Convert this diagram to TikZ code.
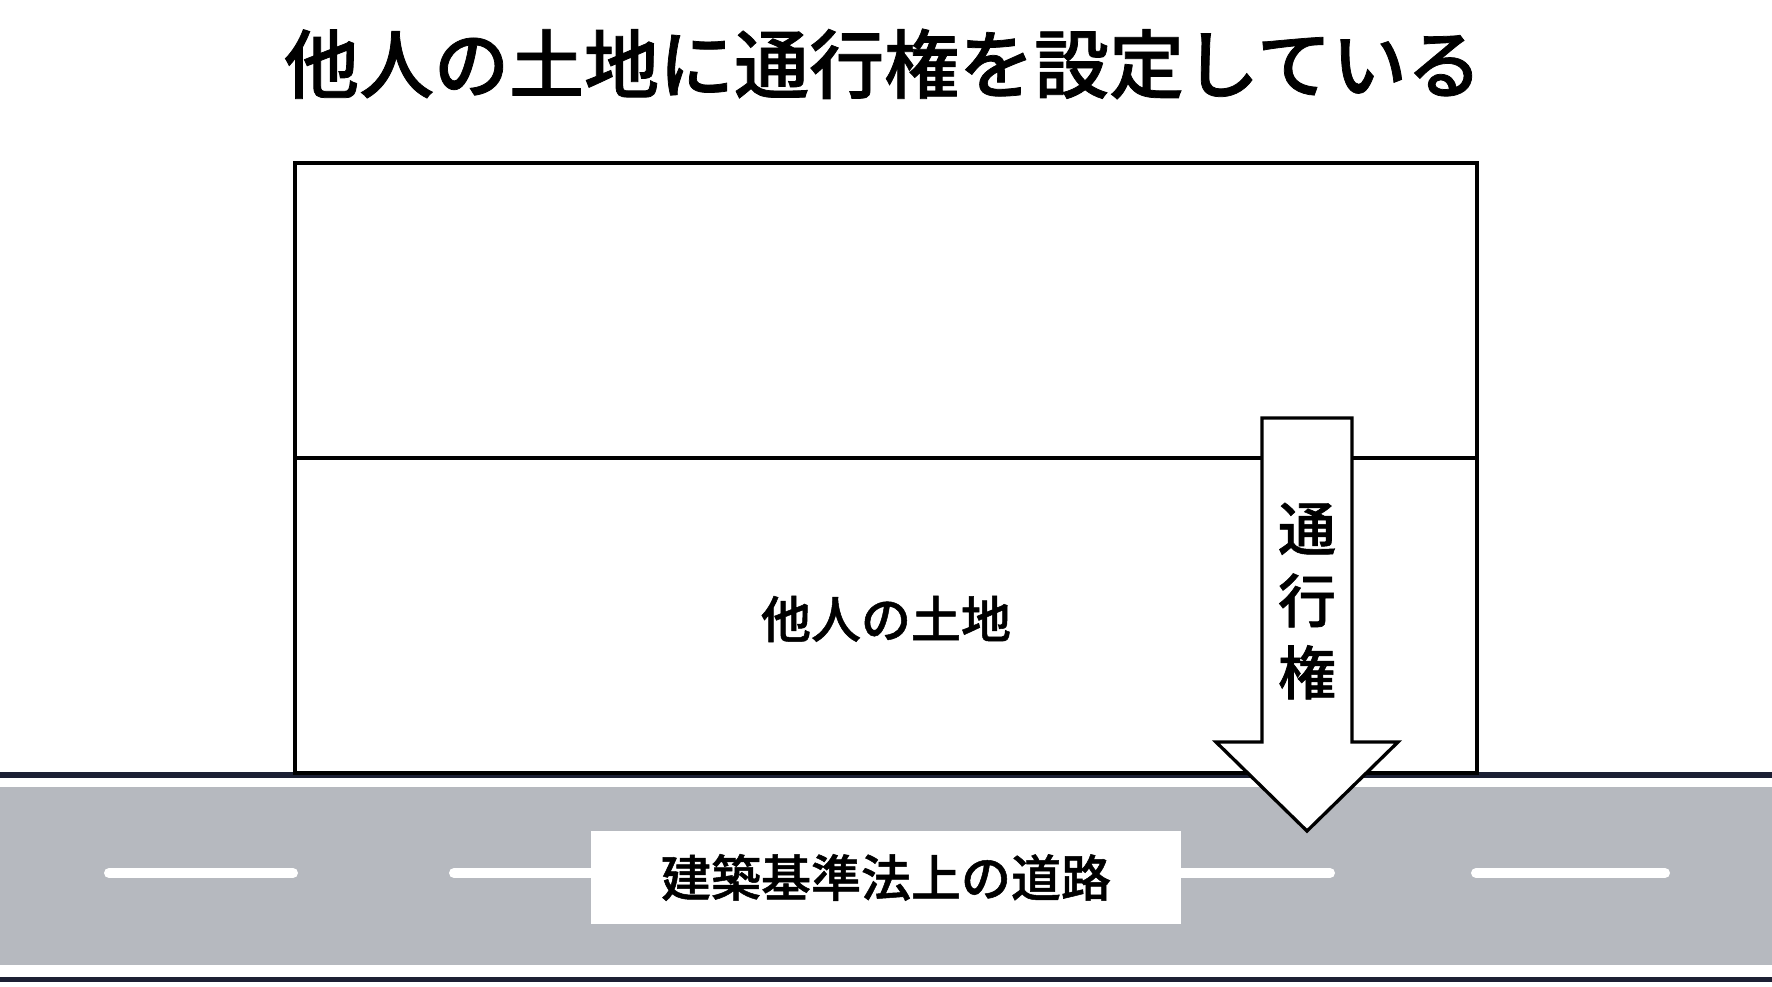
\documentclass[tikz,border=0pt]{standalone}
\usepackage{fontspec}
\newfontfamily\jp{Noto Sans CJK JP Medium}[FakeBold=1]
\definecolor{roadgray}{RGB}{182,185,191}
\definecolor{roaddark}{RGB}{28,32,52}
\tikzset{
  roaddash/.style={white,line width=10pt,line cap=round},
  landline/.style={black,line width=3.3pt},
  txt/.style={inner sep=0pt,text=black},
}
\begin{document}
\begin{tikzpicture}[x=1pt,y=-1pt,line join=miter]
\useasboundingbox (0,0) rectangle (1772,986);
\fill[white] (0,0) rectangle (1772,986);
% road
\fill[roaddark] (0,772) rectangle (1772,778);
\fill[roadgray] (0,787) rectangle (1772,965);
\fill[roaddark] (0,977) rectangle (1772,982);
\draw[roaddash] (109,873) -- (293,873);
\draw[roaddash] (454,873) -- (639,873);
\draw[roaddash] (1144,873) -- (1330,873);
\draw[roaddash] (1476,873) -- (1665,873);
% land
\draw[landline] (295,163) rectangle (1477,773);
\draw[landline] (295,458) -- (1477,458);
% right-of-way arrow
\draw[landline,fill=white] (1262,418) -- (1352,418) -- (1352,742) -- (1398,742)
  -- (1307,831) -- (1216,742) -- (1262,742) -- cycle;
% road label
\node[fill=white,minimum width=590pt,minimum height=93pt,inner sep=0pt] (roadbox) at (886,877.5) {};
\node[txt,font=\jp\fontsize{50}{60}\selectfont] (roadlbl) at (roadbox.center) {建築基準法上の道路};
% texts
\node[txt,font=\jp\fontsize{75}{80}\selectfont] (title) at (883,64) {他人の土地に通行権を設定している};
\node[txt,font=\jp\fontsize{50}{60}\selectfont] (land) at (886,619) {他人の土地};
\node[txt,align=center,font=\jp\fontsize{58}{72}\selectfont] (right) at (1307,601) {通\\行\\権};
\end{tikzpicture}
\end{document}
